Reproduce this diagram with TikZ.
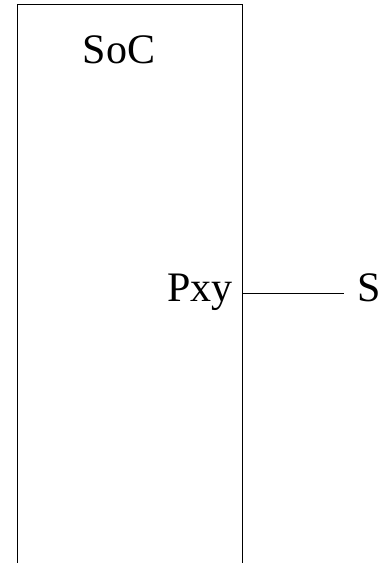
\documentclass[tikz,border=0pt]{standalone}
\usepackage{fontspec}
\setmainfont{Liberation Serif}
\begin{document}
\begin{tikzpicture}[x=1pt,y=1pt,
  lbl/.style={inner sep=0pt,font=\fontsize{42}{50}\selectfont},
  wire/.style={line width=1pt}]
\useasboundingbox (0,0) rectangle (383,563);
\coordinate (bl) at (17,-5);
\coordinate (tl) at (17,558);
\coordinate (tr) at (242,558);
\coordinate (br) at (242,-5);
\draw[wire] (bl) -- (tl) -- (tr) -- (br);
\node[lbl,anchor=base] (soc) at (119,499) {SoC};
\node[lbl,anchor=base east] (pxy) at (233,261) {Pxy};
\coordinate (port) at (242,269);
\node[lbl,anchor=base west] (s) at (357,261) {S};
\coordinate (wireend) at (344,269);
\draw[wire] (port) -- (wireend);
\end{tikzpicture}
\end{document}
